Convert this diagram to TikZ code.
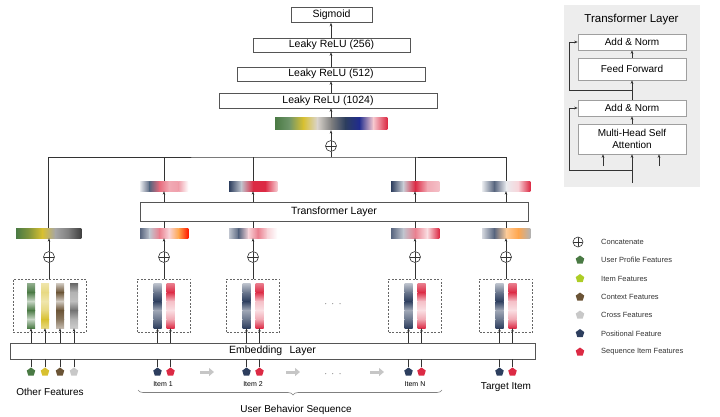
\documentclass[tikz,border=0pt]{standalone}
\usepackage{fontspec}
\setmainfont{Liberation Sans}
\usetikzlibrary{shapes.geometric,arrows.meta,decorations.pathreplacing,calc}
\definecolor{cgreen}{HTML}{4A7A44}
\definecolor{cyellow}{HTML}{D8C030}
\definecolor{cbrown}{HTML}{6B5436}
\definecolor{ccross}{HTML}{C8C8C8}
\definecolor{cnavy}{HTML}{2D3E5E}
\definecolor{cred}{HTML}{DC2A44}
\definecolor{lc}{HTML}{333333}
\definecolor{bc}{HTML}{555555}
\definecolor{panel}{HTML}{EDEDED}

% horizontal gradient bar: x0 y0 w h nseg colors
\newcommand\hgrad[6]{%
  \foreach \cc [remember=\cc as \lastc (initially white), count=\ii] in {#6}{%
    \ifnum\ii>1
      \pgfmathsetmacro\xa{#1+(\ii-2)*#3/#5}%
      \pgfmathsetmacro\xb{#1+(\ii-1)*#3/#5+0.3}%
      \shade[left color=\lastc, right color=\cc] (\xa,#2) rectangle (\xb,#2+#4);
    \fi}}
% vertical gradient strip: xc y0 w h nseg colors
\newcommand\vgrad[6]{%
  \foreach \cc [remember=\cc as \lastc (initially white), count=\ii] in {#6}{%
    \ifnum\ii>1
      \pgfmathsetmacro\ya{#2+(\ii-2)*#4/#5}%
      \pgfmathsetmacro\yb{#2+(\ii-1)*#4/#5+0.3}%
      \shade[top color=\lastc, bottom color=\cc] (#1-#3/2,\ya) rectangle (#1+#3/2,\yb);
    \fi}}
\newcommand\navystrip[1]{\vgrad{#1}{283}{8}{45}{5}{cnavy!30!white, cnavy!70!white, cnavy, cnavy!45!white, cnavy!70!white, cnavy}}
\newcommand\redstrip[1]{\vgrad{#1}{283}{8}{45}{5}{cred!60!white, cred, cred!30!white, cred!15!white, cred!40!white, cred}}

\tikzset{
  ln/.style={draw=lc, line width=0.5pt},
  arr/.style={ln, -{Stealth[length=3.5pt,width=2.6pt]}},
  box/.style={draw=bc, line width=0.6pt, fill=white, inner sep=0pt, font=\fontsize{10.5}{12}\selectfont},
  pbox/.style={draw=gray!75, line width=0.6pt, fill=white, inner sep=0pt, minimum width=108, font=\fontsize{10}{11.5}\selectfont},
  barn/.style={inner sep=0pt, minimum width=48, minimum height=10},
  stripn/.style={inner sep=0pt, minimum width=8, minimum height=45},
  dbox/.style={draw=gray!80!black, line width=0.5pt, dash pattern=on 2pt off 1.5pt, inner sep=0pt, minimum height=53},
  op/.style={circle, draw=lc, line width=0.6pt, minimum size=11, inner sep=0pt, fill=white,
    path picture={\draw[lc, line width=0.6pt] (path picture bounding box.north) -- (path picture bounding box.south)
      (path picture bounding box.west) -- (path picture bounding box.east);}},
  dot/.style={regular polygon, regular polygon sides=5, minimum size=9, inner sep=0pt},
  lbl/.style={font=\fontsize{10}{12}\selectfont},
  small/.style={font=\fontsize{7}{8}\selectfont},
  lg/.style={anchor=west, inner sep=0pt, font=\fontsize{7.5}{9}\selectfont, text=black!80},
  grayarrow/.style={draw=gray!45, line width=3pt, -{Triangle[length=5pt,width=8pt]}},
  brace/.style={draw=gray, line width=0.6pt, decorate, decoration={brace, mirror, amplitude=5pt, aspect=0.51}}
}

\begin{document}
\begin{tikzpicture}[x=1pt,y=-1pt]
\useasboundingbox (0,0) rectangle (720,417);

% ---------- top MLP ----------
\node[box, minimum width=81, minimum height=15] (sig) at (331.5,15) {Sigmoid};
\node[box, minimum width=157, minimum height=14] (r256) at (331.5,45) {Leaky ReLU (256)};
\node[box, minimum width=188, minimum height=14] (r512) at (331,74) {Leaky ReLU (512)};
\node[box, minimum width=218, minimum height=15] (r1024) at (328,100.5) {Leaky ReLU (1024)};
\hgrad{275}{118}{112}{12}{8}{cgreen, cgreen!80!white, cyellow, cbrown!25!white, gray, cnavy, cnavy!70!blue, cred!25!white, cred}
\node[inner sep=0pt, minimum width=112, minimum height=12] (topbar) at (331,124) {};
\node[op] (topop) at (331,146) {};
\coordinate (bus) at (331,157);

\draw[arr] (topop.north) -- (topbar.south);
\draw[arr] (topbar.north) -- (r1024.south -| topbar);
\draw[arr] (r1024.north -| topbar) -- (r512.south -| topbar);
\draw[arr] (r512.north -| topbar) -- (r256.south -| topbar);
\draw[arr] (r256.north -| topbar) -- (sig.south -| topbar);

% ---------- transformer & embedding boxes ----------
\node[box, minimum width=388, minimum height=19] (tl) at (334,211.5) {Transformer Layer};
\node[box, minimum width=525, minimum height=16] (emb) at (272.5,351) {Embedding\hspace{0.7em}Layer};

% ---------- gradient bars ----------
% upper (after transformer)
\hgrad{140}{181}{48}{10}{5}{cnavy!10!white, cnavy!80!white, cred!70!white, cred!40!white, cred!45!white, white}
\hgrad{229}{181}{48}{10}{4}{cnavy, cnavy!30!white, cred, cred, cred!25!white}
\hgrad{391}{181}{48}{10}{4}{cnavy, cnavy!25!white, cred, cred!40!white, cred!30!white}
\hgrad{482}{181}{48}{10}{4}{cnavy!10!white, cnavy!80!white, cnavy!10!white, cred!20!white, cred}
% lower (before transformer)
\hgrad{16}{228}{65}{10}{5}{cgreen, cgreen!60!cyellow, cyellow, gray!70, gray, black!75}
\hgrad{140}{228}{48}{10}{5}{cnavy!80!white, cnavy!30!white, cred!60!white, cred!20!white, orange!70, red!80!orange}
\hgrad{229}{228}{48}{10}{5}{cnavy!30!white, cnavy!80!white, cred!20!white, cred!60!white, cred!20!white, white}
\hgrad{391}{228}{48}{10}{4}{cnavy!80!white, cnavy!30!white, cred!60!white, cred!15!white, cred}
\hgrad{482}{228}{48}{10}{4}{cnavy!20!white, cnavy!80!white, orange!40!white, orange!70!white, gray!60}

\node[inner sep=0pt, minimum width=65, minimum height=10] (lcat) at (48.5,233) {};

% ---------- sequence columns ----------
\foreach \nm/\cx in {1/164, 2/253, N/415, T/506}{
  \node[barn] (ut\nm) at (\cx,186) {};
  \node[barn] (lb\nm) at (\cx,233) {};
  \node[op] (op\nm) at (\cx,257) {};
  \node[dbox, minimum width=53] (db\nm) at (\cx,305.5) {};
  \navystrip{\cx-6.5}
  \redstrip{\cx+6.5}
  \node[stripn] (sa\nm) at (\cx-6.5,305.5) {};
  \node[stripn] (sb\nm) at (\cx+6.5,305.5) {};
  \node[dot, fill=cnavy] (pa\nm) at (\cx-6.5,372) {};
  \node[dot, fill=cred] (pb\nm) at (\cx+6.5,372) {};
  \draw[arr] (tl.north -| ut\nm) -- (ut\nm.south);
  \draw[ln] (lb\nm.north) -- (tl.south -| lb\nm);
  \draw[arr] (op\nm.north) -- (lb\nm.south);
  \draw[ln] (db\nm.north) -- (op\nm.south);
  \draw[arr] (emb.north -| sa\nm) -- (sa\nm.south);
  \draw[arr] (emb.north -| sb\nm) -- (sb\nm.south);
  \draw[ln] (pa\nm.north) -- (emb.south -| pa\nm);
  \draw[ln] (pb\nm.north) -- (emb.south -| pb\nm);
}

% ---------- other features column ----------
\node[op] (opO) at (49,257) {};
\node[dbox, minimum width=73] (dbO) at (49.5,305.5) {};
\vgrad{31}{283}{8}{45}{5}{cgreen!60!white, cgreen, cgreen!30!white, cgreen, cgreen!30!white, cgreen}
\vgrad{45}{283}{8}{45}{5}{cyellow!40!white, cyellow!60!white, cyellow!40!white, cyellow!60!white, cyellow, cyellow!60!white}
\vgrad{60}{283}{8}{45}{5}{cbrown!30!white, cbrown, cbrown!30!white, cbrown, cbrown!80!white, cbrown!40!white}
\vgrad{74}{283}{8}{45}{5}{gray!80!black, gray!60!white, gray!50!white, gray!90!black, gray!60!white, gray!40!white}
\foreach \k/\xx/\col in {1/31/cgreen, 2/45/cyellow, 3/60/cbrown, 4/74/ccross}{
  \node[stripn] (so\k) at (\xx,305.5) {};
  \node[dot, fill=\col] (po\k) at (\xx,372) {};
  \draw[arr] (emb.north -| so\k) -- (so\k.south);
  \draw[ln] (po\k.north) -- (emb.south -| po\k);
}
\draw[arr] (opO.north) -- (lcat.south -| opO);
\draw[ln] (dbO.north -| opO) -- (opO.south);

% ---------- bus ----------
\draw[ln] (topop.south) -- (bus);
\draw[ln] (lcat.north) |- (bus) -| (utT.north);
\foreach \nm in {1,2,N}{\draw[ln] (ut\nm.north) -- (ut\nm.north |- bus);}

% ---------- labels & decorations ----------
\node[lbl] (lother) at (50,392) {Other Features};
\node[small] (li1) at (163,384) {Item 1};
\node[small] (li2) at (253,384) {Item 2};
\node[small] (liN) at (415,384) {Item N};
\node[lbl] (ltar) at (506,387.5) {Target Item};
\node[font=\fontsize{9}{10}\selectfont] (dots1) at (333,304) {$\cdot\ \cdot\ \cdot$};
\node[font=\fontsize{9}{10}\selectfont] (dots2) at (333,374) {$\cdot\ \cdot\ \cdot$};
\foreach \k/\xx in {1/207, 2/293, 3/377}{
  \coordinate (gas\k) at (\xx-7,372);
  \coordinate (gae\k) at (\xx+7,372);
  \draw[grayarrow] (gas\k) -- (gae\k);
}
\coordinate (brL) at (138,390);
\coordinate (brR) at (442,390);
\draw[brace] (brL) -- (brR);
\node[lbl] (lubs) at (296,410) {User Behavior Sequence};

% ---------- transformer layer panel ----------
\node[fill=panel, minimum width=136, minimum height=182, inner sep=0pt] (panel) at (631.5,96) {};
\node[font=\fontsize{11.5}{13}\selectfont] (ptitle) at (631.5,20) {Transformer Layer};
\node[pbox, minimum height=16] (an2) at (632,42) {Add \& Norm};
\node[pbox, minimum height=22] (ff) at (632,69) {Feed Forward};
\node[pbox, minimum height=16] (an1) at (632,108) {Add \& Norm};
\node[pbox, minimum height=30, align=center] (mh) at (632,139) {Multi-Head Self\\Attention};
\coordinate (pin) at (632,183);
\coordinate (rx) at (569,0);
\coordinate (res1) at (632,170);
\coordinate (res2) at (632,90);
\coordinate (ps1) at (603,166);
\coordinate (ps2) at (659,166);
\draw[arr] (pin) -- (mh.south);
\draw[arr] (ps1) -- (ps1 |- mh.south);
\draw[arr] (ps2) -- (ps2 |- mh.south);
\draw[arr] (mh.north) -- (an1.south);
\draw[arr] (an1.north) -- (ff.south);
\draw[arr] (ff.north) -- (an2.south);
\draw[arr] (res1) -- (res1 -| rx) |- (an1.west);
\draw[arr] (res2) -- (res2 -| rx) |- (an2.west);

% ---------- legend ----------
\node[op, minimum size=10] (lgop) at (578,242) {};
\node[lg] (lgt0) at (601,242) {Concatenate};
\foreach \k/\yy/\col/\txt in {1/260/cgreen/User Profile Features, 2/278.5/cyellow!80!green/Item Features,
  3/297/cbrown/Context Features, 4/315/ccross/Cross Features, 5/333.5/cnavy/Positional Feature,
  6/352/cred/Sequence Item Features}{
  \node[dot, fill=\col] (lgd\k) at (580,\yy) {};
  \node[lg] (lgt\k) at (601,\yy) {\txt};
}
\end{tikzpicture}
\end{document}
